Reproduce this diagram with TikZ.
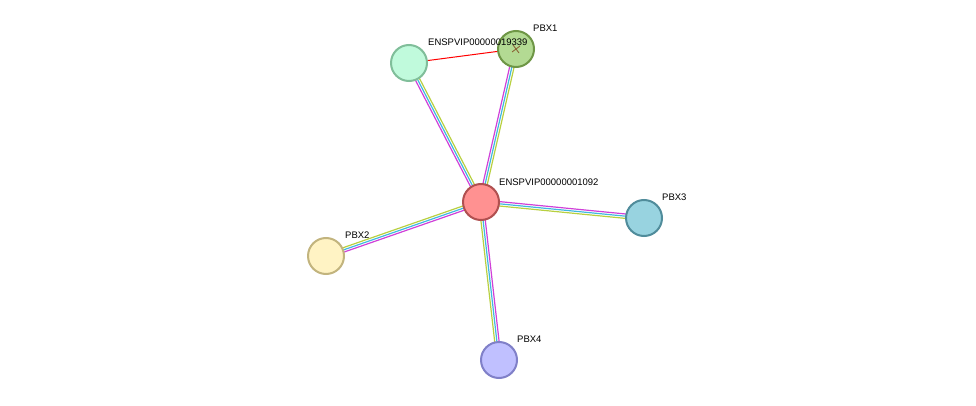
\documentclass[tikz,border=0pt]{standalone}
\usepackage{fontspec}
\setmainfont{Liberation Sans}
\usetikzlibrary{calc}
\definecolor{edgeA}{HTML}{D040D8}
\definecolor{edgeB}{HTML}{40B8E0}
\definecolor{edgeC}{HTML}{B8D040}
\begin{document}
\newcommand{\triedge}[2]{%
\draw [line width=1.2pt, edgeA] ($(#1)!2.2pt!90:(#2)$) -- ($(#2)!2.2pt!-90:(#1)$);
\draw [line width=1.2pt, edgeB] (#1) -- (#2);
\draw [line width=1.2pt, edgeC] ($(#1)!2.2pt!-90:(#2)$) -- ($(#2)!2.2pt!90:(#1)$);
}
\begin{tikzpicture}[x=1pt,y=-1pt]
\tikzstyle{prot} = [circle, minimum size=36pt, inner sep=0pt, line width=2pt]
\tikzstyle{lab} = [font=\fontsize{9.5}{10}\selectfont, anchor=south west, inner sep=1pt]
\useasboundingbox (0,0) rectangle (976,406);
\coordinate (c0) at (481,202);
\coordinate (c1) at (516,49);
\coordinate (c2) at (409,63);
\coordinate (c3) at (644,218);
\coordinate (c4) at (326,256);
\coordinate (c5) at (499,360);
\triedge{c0}{c1}
\triedge{c0}{c2}
\triedge{c0}{c3}
\triedge{c0}{c4}
\triedge{c0}{c5}
\draw [line width=1pt, red] (c2) -- (c1);
\node [prot, draw={rgb,255:red,176;green,80;blue,80}, fill={rgb,255:red,255;green,145;blue,145}] (n0) at (c0) {};
\node [prot, draw={rgb,255:red,110;green,150;blue,70}, fill={rgb,255:red,179;green,218;blue,147}] (n1) at (c1) {};
\node [prot, draw={rgb,255:red,128;green,190;blue,154}, fill={rgb,255:red,192;green,250;blue,220}] (n2) at (c2) {};
\node [prot, draw={rgb,255:red,80;green,140;blue,155}, fill={rgb,255:red,152;green,211;blue,224}] (n3) at (c3) {};
\node [prot, draw={rgb,255:red,194;green,180;blue,126}, fill={rgb,255:red,255;green,243;blue,196}] (n4) at (c4) {};
\node [prot, draw={rgb,255:red,128;green,128;blue,200}, fill={rgb,255:red,192;green,192;blue,255}] (n5) at (c5) {};
\draw [brown!70!black, line width=0.8pt] (512,52) -- (520,46) (513,45) -- (519,53);
\node [lab] at (498,187) {ENSPVIP00000001092};
\node [lab] at (532,33) {PBX1};
\node [lab] at (427,47) {ENSPVIP00000019339};
\node [lab] at (661,202) {PBX3};
\node [lab] at (344,240) {PBX2};
\node [lab] at (516,344) {PBX4};
\end{tikzpicture}
\end{document}
